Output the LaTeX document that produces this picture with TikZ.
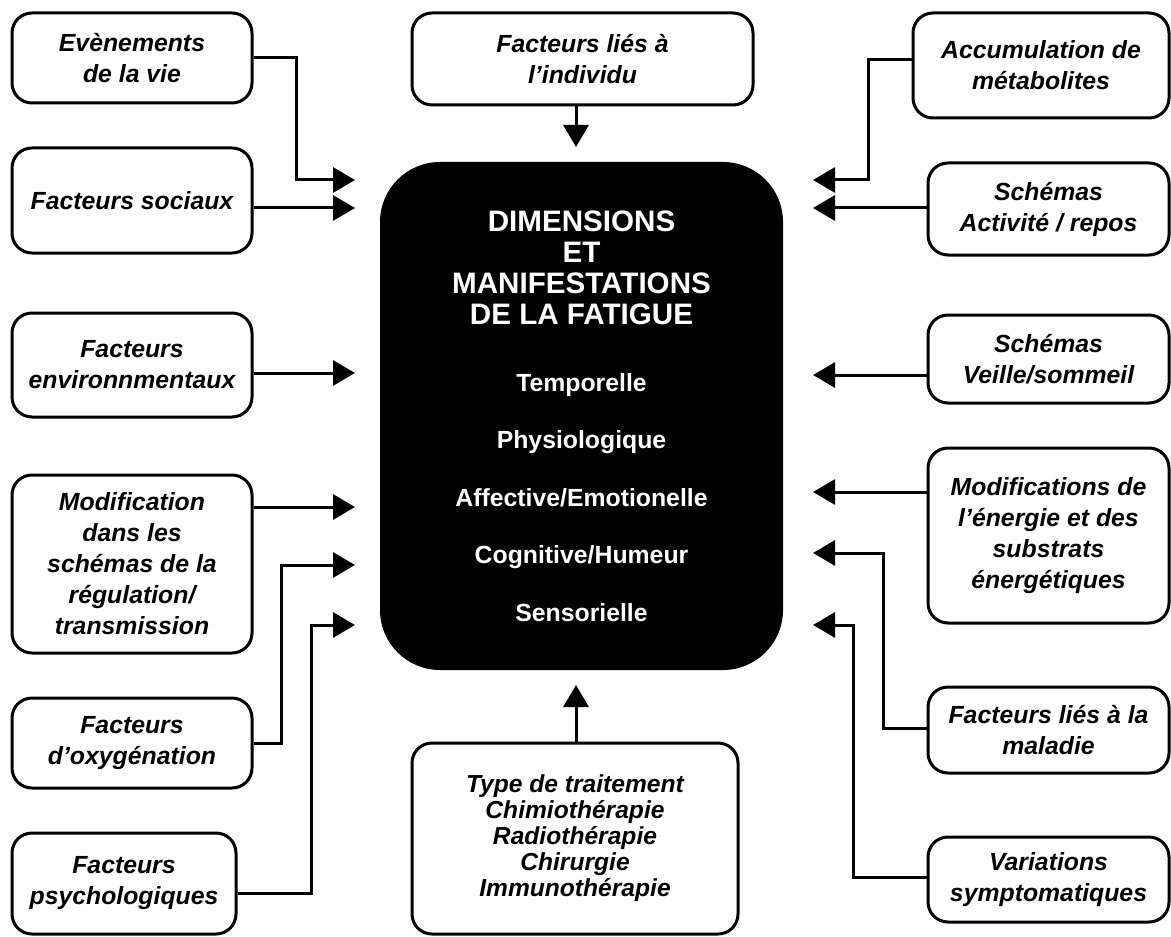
\documentclass[tikz,border=0pt]{standalone}
\usepackage{fontspec}
\setmainfont{Liberation Sans}
\usetikzlibrary{arrows.meta}

\begin{document}
\begin{tikzpicture}[
  x=0.5pt, y=-0.5pt,
  box/.style={rectangle, draw, line width=1.5pt, rounded corners=10pt, align=center, inner sep=2pt,
    font=\bfseries\itshape\fontsize{12.4}{15.5}\selectfont},
  core/.style={rectangle, fill=black, rounded corners=30pt, text=white, align=center,
    font=\bfseries\fontsize{14.8}{15.5}\selectfont},
  arrow/.style={-{Triangle[length=11pt,width=12.5pt]}, line width=1.5pt}
]
\useasboundingbox (0,0) rectangle (1171,936);

% centre
\node[core, minimum width=201.5pt, minimum height=254pt] (dim) at (581.5,416)
  {DIMENSIONS\\ET\\MANIFESTATIONS\\DE LA FATIGUE\\[18pt]
   {\fontsize{12.4}{16}\selectfont Temporelle}\\[13.25pt]
   {\fontsize{12.4}{16}\selectfont Physiologique}\\[13.25pt]
   {\fontsize{12.4}{16}\selectfont Affective/Emotionelle}\\[13.25pt]
   {\fontsize{12.4}{16}\selectfont Cognitive/Humeur}\\[13.25pt]
   {\fontsize{12.4}{16}\selectfont Sensorielle}};

% left column
\node[box, minimum width=120pt, minimum height=45pt] (ev) at (132,58) {Evènements\\de la vie};
\node[box, minimum width=120pt, minimum height=52.5pt] (soc) at (132,200.5) {Facteurs sociaux};
\node[box, minimum width=120pt, minimum height=52pt] (env) at (132,365) {Facteurs\\environnmentaux};
\node[box, minimum width=120pt, minimum height=89pt] (modif) at (132,564)
  {Modification\\dans les\\schémas de la\\régulation/\\transmission};
\node[box, minimum width=120pt, minimum height=45pt] (oxy) at (132,743) {Facteurs\\d’oxygénation};
\node[box, minimum width=112pt, minimum height=50.5pt] (psy) at (124,883.5) {Facteurs\\psychologiques};

% top and bottom
\node[box, minimum width=170.5pt, minimum height=46pt] (indiv) at (582.5,59) {Facteurs liés à\\l’individu};
\node[box, minimum width=163pt, minimum height=95.5pt, font=\bfseries\itshape\fontsize{12.3}{13}\selectfont] (trait) at (575,838.5)
  {Type de traitement\\Chimiothérapie\\Radiothérapie\\Chirurgie\\Immunothérapie};

% right column
\node[box, minimum width=128pt, minimum height=52.5pt] (acc) at (1041,65.5) {Accumulation de\\métabolites};
\node[box, minimum width=120.5pt, minimum height=46pt] (act) at (1048.5,209) {Schémas\\Activité / repos};
\node[box, minimum width=120.5pt, minimum height=44pt] (veil) at (1048.5,359) {Schémas\\Veille/sommeil};
\node[box, minimum width=120.5pt, minimum height=87.5pt] (modE) at (1048.5,535.5)
  {Modifications de\\l’énergie et des\\substrats\\énergétiques};
\node[box, minimum width=120.5pt, minimum height=43pt] (mal) at (1048.5,730) {Facteurs liés à la\\maladie};
\node[box, minimum width=120.5pt, minimum height=42.5pt] (var) at (1048.5,879.5) {Variations\\symptomatiques};

% arrow ends
\coordinate (ev-in) at (355,180);
\coordinate (soc-in) at (355,208);
\coordinate (env-in) at (355,373);
\coordinate (modif-in) at (355,507);
\coordinate (oxy-in) at (355,565);
\coordinate (psy-in) at (355,625);
\coordinate (indiv-in) at (576,147);
\coordinate (trait-in) at (576,685);
\coordinate (acc-in) at (813,180);
\coordinate (act-in) at (813,208);
\coordinate (veil-in) at (813,375);
\coordinate (modE-in) at (813,492);
\coordinate (mal-in) at (813,553);
\coordinate (var-in) at (813,625);

\draw[arrow] (ev.east) -- ++(43,0) |- (ev-in);
\draw[arrow] (soc.east |- soc-in) -- (soc-in);
\draw[arrow] (env.east |- env-in) -- (env-in);
\draw[arrow] (modif.east |- modif-in) -- (modif-in);
\draw[arrow] (oxy.east) -- ++(28,0) |- (oxy-in);
\draw[arrow] (psy.east |- 0,893) -- ++(74,0) |- (psy-in);

\draw[arrow] (indiv-in |- indiv.south) -- (indiv-in);
\draw[arrow] (trait-in |- trait.north) -- (trait-in);

\draw[arrow] (acc.west |- 0,60) -- ++(-43,0) |- (acc-in);
\draw[arrow] (act.west |- act-in) -- (act-in);
\draw[arrow] (veil.west |- veil-in) -- (veil-in);
\draw[arrow] (modE.west |- modE-in) -- (modE-in);
\draw[arrow] (mal.west |- 0,728) -- ++(-43,0) |- (mal-in);
\draw[arrow] (var.west |- 0,877) -- ++(-73,0) |- (var-in);

\end{tikzpicture}
\end{document}
